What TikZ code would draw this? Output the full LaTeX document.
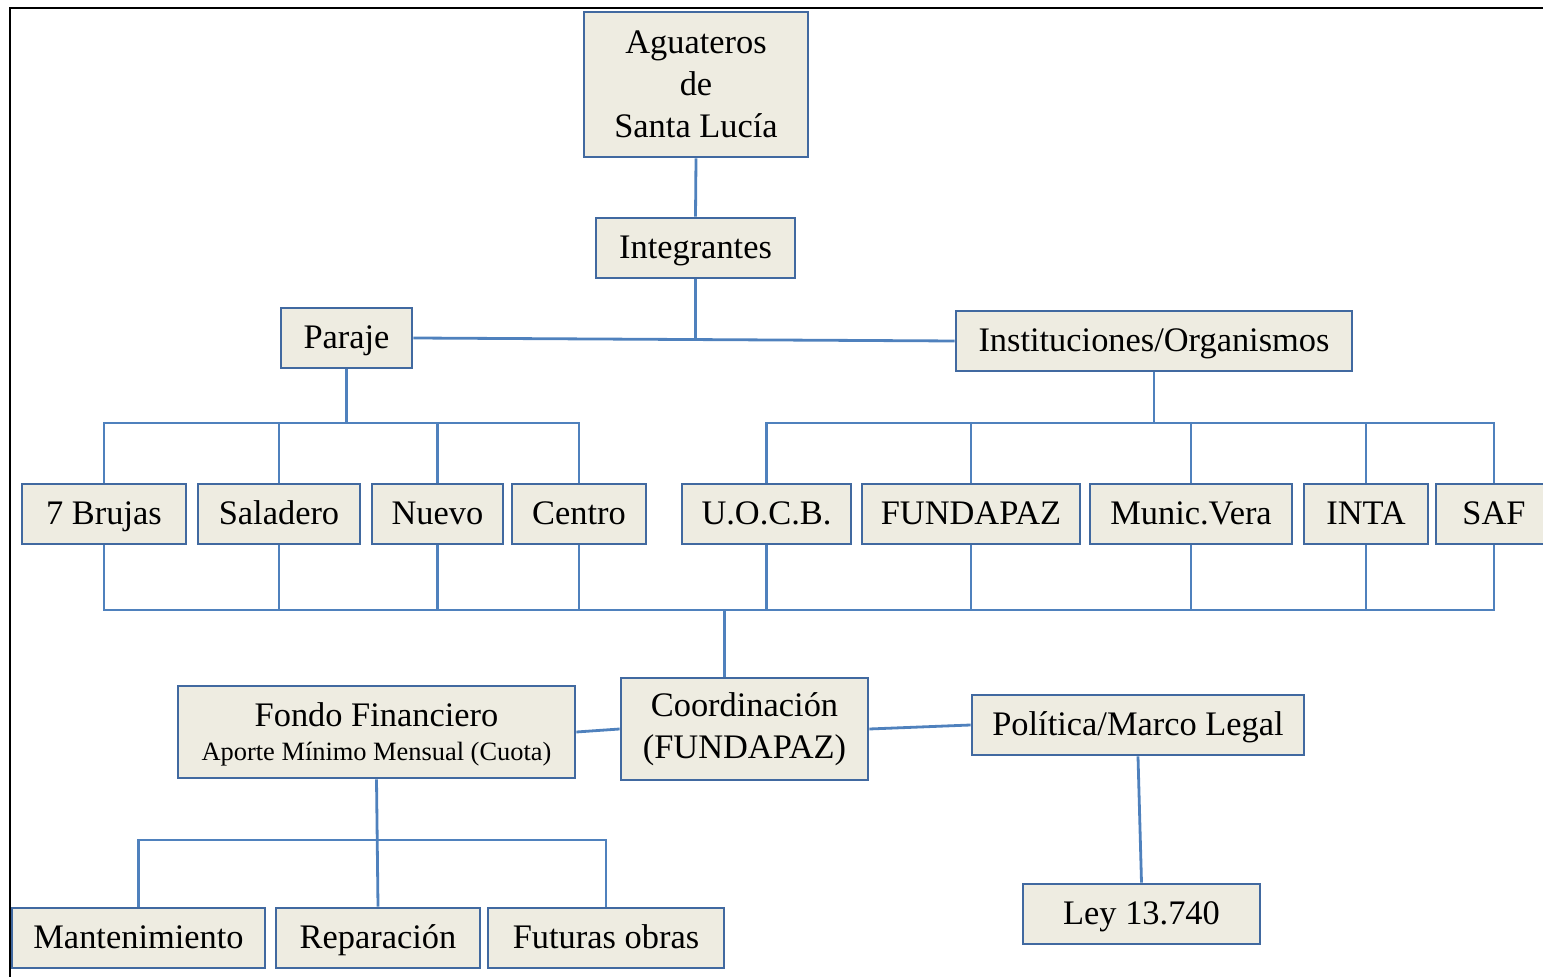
\documentclass[tikz,border=0pt]{standalone}
\usepackage{fontspec}
\setmainfont{Liberation Serif}
\usepackage{tikz}
\usetikzlibrary{calc}
\definecolor{cajafondo}{RGB}{238,236,225}
\definecolor{cajaborde}{RGB}{65,105,160}
\definecolor{linea}{RGB}{79,129,189}
\tikzstyle{caja} = [rectangle, fill=cajafondo, draw=cajaborde, line width=1.4pt, inner sep=0pt, minimum height=30pt, text centered, align=center, font=\fontsize{17.2}{21}\selectfont]
\tikzstyle{linea1} = [text height=12.5pt, text depth=1.5pt]
\tikzstyle{conector} = [draw=linea, line width=1.4pt]

\begin{document}
\begin{tikzpicture}[x=0.5pt, y=-0.5pt]
        \useasboundingbox (0,0) rectangle (1543,977);
        \draw [black, line width=1pt] (10,977) -- (10,8) -- (1543,8);
        \node (agua) [caja, minimum width=112pt, minimum height=72.5pt] at (696,84.5) {Aguateros\\de\\Santa Lucía};
        \node (integ) [caja, linea1, minimum width=99.5pt] at (695.5,248) {Integrantes};
        \node (paraje) [caja, linea1, minimum width=65.5pt] at (346.5,338) {Paraje};
        \node (inst) [caja, linea1, minimum width=198pt] at (1154,341) {Instituciones/Organismos};
        \draw [conector] (agua.south) -- (integ.north);
        \draw [conector] (paraje.east) -- (inst.west);
        \draw [conector] (integ.south) -- (integ.south |- paraje.east);
        % parajes
        \node (brujas) [caja, linea1, minimum width=82pt] at (104,514) {7 Brujas};
        \node (saladero) [caja, linea1, minimum width=81pt] at (279,514) {Saladero};
        \node (nuevo) [caja, linea1, minimum width=65.5pt] at (437.5,514) {Nuevo};
        \node (centro) [caja, linea1, minimum width=67pt] at (579,514) {Centro};
        % instituciones
        \node (uocb) [caja, linea1, minimum width=84.5pt] at (766.5,514) {U.O.C.B.};
        \node (fundapaz) [caja, linea1, minimum width=109pt] at (971,514) {FUNDAPAZ};
        \node (munic) [caja, linea1, minimum width=101pt] at (1191,514) {Munic.Vera};
        \node (inta) [caja, linea1, minimum width=62pt] at (1366,514) {INTA};
        \node (saf) [caja, linea1, minimum width=58pt] at (1494,514) {SAF};
        \coordinate (bus1) at (0,423);
        \draw [conector] (brujas.north) |- (bus1 -| centro.north) -- (centro.north);
        \draw [conector] (saladero.north) -- (saladero.north |- bus1);
        \draw [conector] (nuevo.north) -- (nuevo.north |- bus1);
        \draw [conector] (paraje.south) -- (paraje.south |- bus1);
        \draw [conector] (uocb.north) |- (bus1 -| saf.north) -- (saf.north);
        \draw [conector] (fundapaz.north) -- (fundapaz.north |- bus1);
        \draw [conector] (munic.north) -- (munic.north |- bus1);
        \draw [conector] (inta.north) -- (inta.north |- bus1);
        \draw [conector] (inst.south) -- (inst.south |- bus1);
        \coordinate (bus2) at (0,610);
        \draw [conector] (brujas.south) |- (bus2 -| saf.south) -- (saf.south);
        \foreach \n in {saladero, nuevo, centro, uocb, fundapaz, munic, inta}
            \draw [conector] (\n.south) -- (\n.south |- bus2);
        % coordinacion
        \node (coord) [caja, minimum width=123.5pt, minimum height=51pt] at (744.5,729) {Coordinación\\(FUNDAPAZ)};
        \draw [conector] ([xshift=-10pt]coord.north) -- ([xshift=-10pt]coord.north |- bus2);
        \node (fondo) [caja, text depth=0pt, minimum width=198.5pt, minimum height=46pt] at (376.5,732) {Fondo Financiero\\[-4pt]{\fontsize{13.2}{15}\selectfont Aporte Mínimo Mensual (Cuota)}};
        \node (politica) [caja, linea1, minimum width=166pt] at (1138,725) {Política/Marco Legal};
        \node (ley) [caja, linea1, minimum width=118.5pt] at (1141.5,914) {Ley 13.740};
        \draw [conector] (fondo.east) -- (coord.west);
        \draw [conector] (coord.east) -- (politica.west);
        \draw [conector] (politica.south) -- (ley.north);
        % destino del fondo
        \node (mant) [caja, linea1, minimum width=126.5pt] at (138.5,938) {Mantenimiento};
        \node (repar) [caja, linea1, minimum width=102pt] at (378,938) {Reparación};
        \node (futuras) [caja, linea1, minimum width=118pt] at (606,938) {Futuras obras};
        \coordinate (bus3) at (0,840);
        \draw [conector] (mant.north) |- (bus3 -| futuras.north) -- (futuras.north);
        \draw [conector] (fondo.south) -- (repar.north);
    \end{tikzpicture}
\end{document}
